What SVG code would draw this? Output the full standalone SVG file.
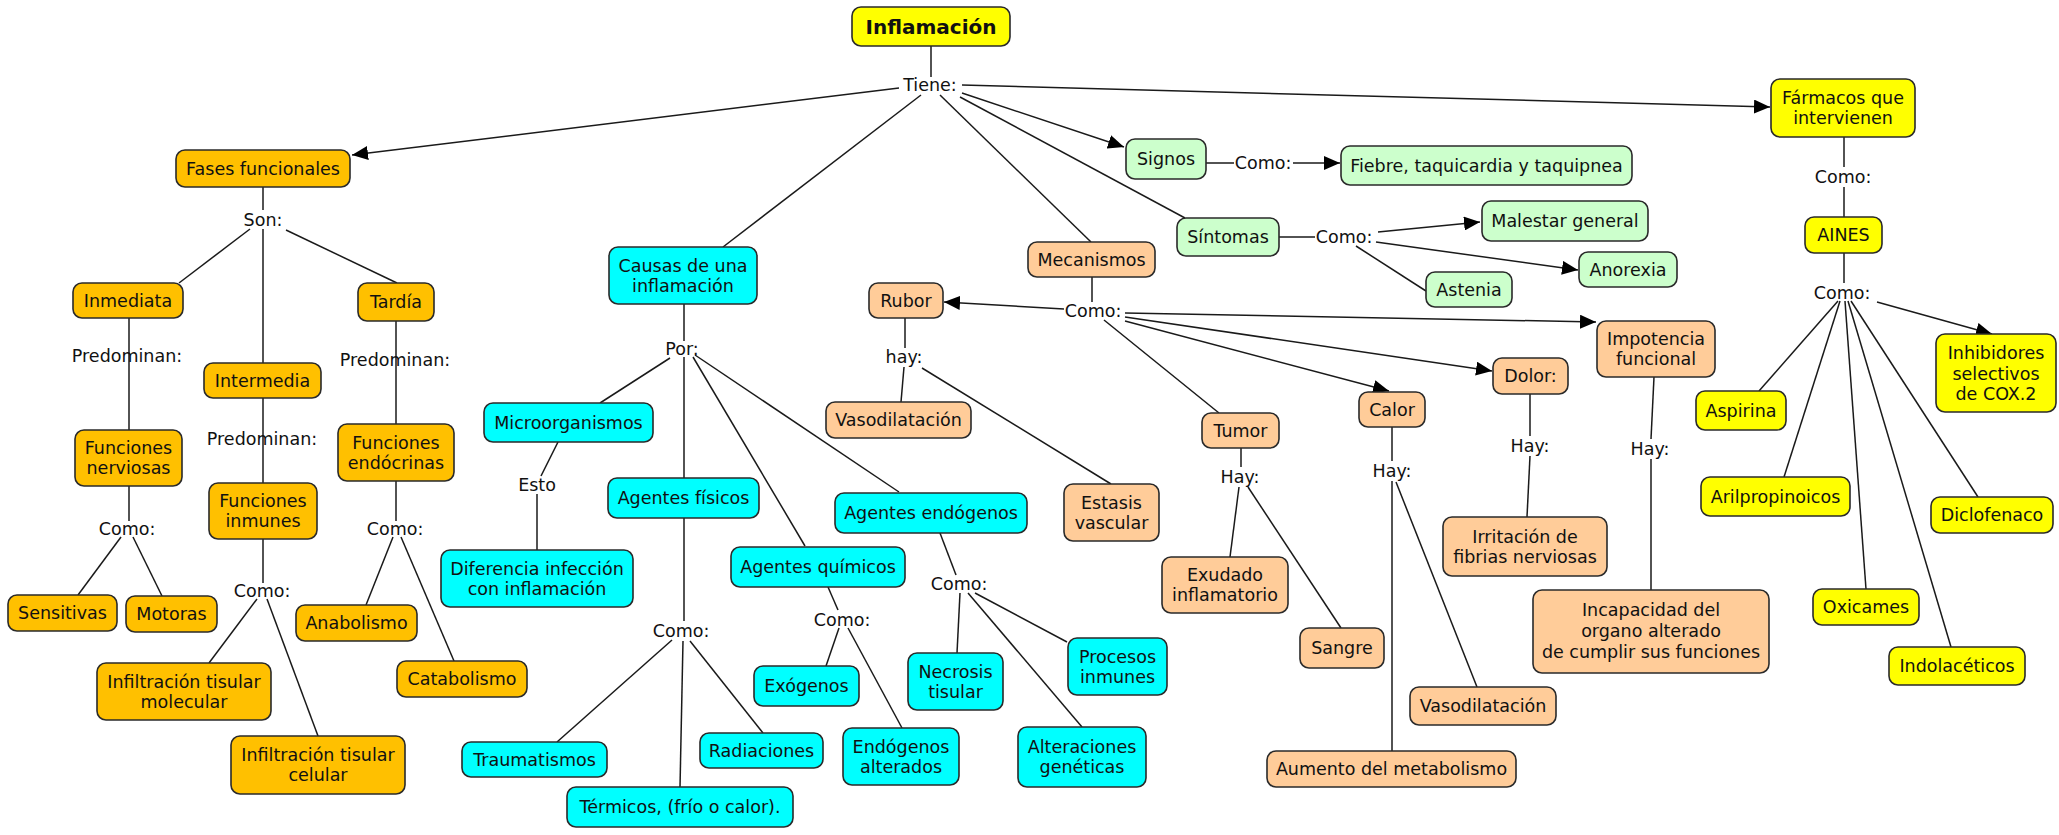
<svg xmlns="http://www.w3.org/2000/svg" width="2059" height="835" viewBox="0 0 2059 835">
<style>
text{font-family:"DejaVu Sans","Liberation Sans",sans-serif;font-size:17.5px;fill:#111;text-anchor:middle}
.t{font-weight:bold;font-size:20px}
.n rect{stroke:#2a2a2a;stroke-width:1.6}
.o{fill:#FFC000}.c{fill:#00FFFF}.p{fill:#FFCC99}.g{fill:#CCFFCC}.y{fill:#FFFF00}
#links line{stroke:#1a1a1a;stroke-width:1.5}
.a{marker-end:url(#ah)}
</style>
<defs>
<marker id="ah" markerUnits="userSpaceOnUse" markerWidth="18" markerHeight="14" refX="16" refY="7" orient="auto">
<path d="M0,0 L16,7 L0,14 z" fill="#000"/>
</marker>
</defs>
<g id="links">
<line x1="931" y1="46" x2="931" y2="77"/>
<line class="a" x1="899" y1="88" x2="352" y2="155"/>
<line x1="921" y1="95" x2="723" y2="247"/>
<line x1="940" y1="95" x2="1091" y2="242"/>
<line x1="960" y1="97" x2="1185" y2="218"/>
<line class="a" x1="962" y1="93" x2="1124" y2="147"/>
<line class="a" x1="962" y1="85" x2="1770" y2="107"/>
<line x1="263" y1="187" x2="263" y2="210"/>
<line x1="250" y1="229" x2="179" y2="283"/>
<line x1="263" y1="229" x2="263" y2="363"/>
<line x1="286" y1="230" x2="397" y2="283"/>
<line x1="129" y1="318" x2="129" y2="430"/>
<line x1="129" y1="486" x2="129" y2="521"/>
<line x1="121" y1="537" x2="78" y2="595"/>
<line x1="133" y1="537" x2="162" y2="596"/>
<line x1="263" y1="398" x2="263" y2="483"/>
<line x1="263" y1="539" x2="263" y2="583"/>
<line x1="257" y1="599" x2="209" y2="663"/>
<line x1="267" y1="599" x2="318" y2="736"/>
<line x1="396" y1="321" x2="396" y2="424"/>
<line x1="396" y1="481" x2="396" y2="521"/>
<line x1="393" y1="537" x2="366" y2="605"/>
<line x1="401" y1="537" x2="454" y2="661"/>
<line x1="684" y1="304" x2="684" y2="341"/>
<line x1="670" y1="358" x2="600" y2="403"/>
<line x1="684" y1="357" x2="684" y2="478"/>
<line x1="693" y1="357" x2="805" y2="546"/>
<line x1="695" y1="355" x2="899" y2="492"/>
<line x1="558" y1="442" x2="541" y2="476"/>
<line x1="537" y1="494" x2="537" y2="550"/>
<line x1="684" y1="518" x2="684" y2="621"/>
<line x1="672" y1="640" x2="557" y2="742"/>
<line x1="683" y1="641" x2="680" y2="787"/>
<line x1="690" y1="641" x2="763" y2="733"/>
<line x1="828" y1="587" x2="838" y2="610"/>
<line x1="839" y1="628" x2="826" y2="666"/>
<line x1="848" y1="628" x2="902" y2="728"/>
<line x1="940" y1="533" x2="956" y2="575"/>
<line x1="960" y1="593" x2="957" y2="653"/>
<line x1="968" y1="593" x2="1082" y2="727"/>
<line x1="975" y1="593" x2="1067" y2="642"/>
<line x1="1092" y1="277" x2="1092" y2="302"/>
<line class="a" x1="1064" y1="309" x2="944" y2="302"/>
<line class="a" x1="1125" y1="313" x2="1596" y2="322"/>
<line class="a" x1="1125" y1="317" x2="1492" y2="371"/>
<line class="a" x1="1125" y1="321" x2="1389" y2="391"/>
<line x1="1104" y1="320" x2="1219" y2="413"/>
<line x1="905" y1="318" x2="905" y2="348"/>
<line x1="904" y1="367" x2="901" y2="402"/>
<line x1="922" y1="368" x2="1111" y2="484"/>
<line x1="1241" y1="448" x2="1241" y2="467"/>
<line x1="1239" y1="487" x2="1230" y2="557"/>
<line x1="1248" y1="487" x2="1341" y2="628"/>
<line x1="1392" y1="427" x2="1392" y2="461"/>
<line x1="1392" y1="481" x2="1392" y2="751"/>
<line x1="1396" y1="482" x2="1477" y2="687"/>
<line x1="1530" y1="394" x2="1530" y2="436"/>
<line x1="1530" y1="456" x2="1527" y2="517"/>
<line x1="1654" y1="377" x2="1651" y2="439"/>
<line x1="1651" y1="459" x2="1651" y2="590"/>
<line x1="1206" y1="163" x2="1234" y2="163"/>
<line class="a" x1="1293" y1="163" x2="1340" y2="163"/>
<line x1="1279" y1="237" x2="1315" y2="237"/>
<line class="a" x1="1378" y1="232" x2="1480" y2="222"/>
<line class="a" x1="1376" y1="242" x2="1578" y2="270"/>
<line x1="1356" y1="246" x2="1426" y2="291"/>
<line x1="1844" y1="137" x2="1844" y2="167"/>
<line x1="1844" y1="187" x2="1844" y2="217"/>
<line x1="1844" y1="253" x2="1844" y2="283"/>
<line class="a" x1="1877" y1="302" x2="1992" y2="334"/>
<line x1="1838" y1="301" x2="1759" y2="391"/>
<line x1="1840" y1="301" x2="1784" y2="477"/>
<line x1="1845" y1="301" x2="1866" y2="589"/>
<line x1="1848" y1="301" x2="1951" y2="647"/>
<line x1="1851" y1="301" x2="1978" y2="497"/>
</g>
<g id="labels">
<text x="930" y="91">Tiene:</text>
<text x="263" y="226">Son:</text>
<text x="127" y="362">Predominan:</text>
<text x="262" y="445">Predominan:</text>
<text x="395" y="366">Predominan:</text>
<text x="127" y="535">Como:</text>
<text x="262" y="597">Como:</text>
<text x="395" y="535">Como:</text>
<text x="682" y="355">Por:</text>
<text x="537" y="491">Esto</text>
<text x="681" y="637">Como:</text>
<text x="842" y="626">Como:</text>
<text x="959" y="590">Como:</text>
<text x="1093" y="317">Como:</text>
<text x="904" y="363">hay:</text>
<text x="1240" y="483">Hay:</text>
<text x="1392" y="477">Hay:</text>
<text x="1530" y="452">Hay:</text>
<text x="1650" y="455">Hay:</text>
<text x="1263" y="169">Como:</text>
<text x="1344" y="243">Como:</text>
<text x="1843" y="183">Como:</text>
<text x="1842" y="299">Como:</text>
</g>
<g class="n">
<g id="n-inflamacion"><rect class="y" x="852" y="7" width="158" height="39" rx="9"/><text class="t" x="931" y="33.5">Inflamación</text></g>
<g id="n-fases"><rect class="o" x="176" y="150" width="174" height="37" rx="9"/><text x="263" y="174.5">Fases funcionales</text></g>
<g id="n-inmediata"><rect class="o" x="73" y="283" width="110" height="35" rx="9"/><text x="128" y="306.5">Inmediata</text></g>
<g id="n-intermedia"><rect class="o" x="204" y="363" width="117" height="35" rx="9"/><text x="262.5" y="386.5">Intermedia</text></g>
<g id="n-tardia"><rect class="o" x="358" y="283" width="76" height="38" rx="9"/><text x="396" y="308">Tardía</text></g>
<g id="n-nerviosas"><rect class="o" x="75" y="430" width="107" height="56" rx="9"/><text x="128.5" y="454">Funciones</text><text x="128.5" y="474">nerviosas</text></g>
<g id="n-inmunes"><rect class="o" x="209" y="483" width="108" height="56" rx="9"/><text x="263" y="507">Funciones</text><text x="263" y="527">inmunes</text></g>
<g id="n-endocrinas"><rect class="o" x="338" y="424" width="116" height="57" rx="9"/><text x="396" y="448.5">Funciones</text><text x="396" y="468.5">endócrinas</text></g>
<g id="n-sensitivas"><rect class="o" x="8" y="595" width="109" height="36" rx="9"/><text x="62.5" y="619">Sensitivas</text></g>
<g id="n-motoras"><rect class="o" x="126" y="596" width="91" height="36" rx="9"/><text x="171.5" y="620">Motoras</text></g>
<g id="n-anabolismo"><rect class="o" x="296" y="605" width="121" height="36" rx="9"/><text x="356.5" y="629">Anabolismo</text></g>
<g id="n-catabolismo"><rect class="o" x="397" y="661" width="130" height="36" rx="9"/><text x="462" y="685">Catabolismo</text></g>
<g id="n-infmolecular"><rect class="o" x="97" y="663" width="174" height="57" rx="9"/><text x="184" y="687.5">Infiltración tisular</text><text x="184" y="707.5">molecular</text></g>
<g id="n-infcelular"><rect class="o" x="231" y="736" width="174" height="58" rx="9"/><text x="318" y="761">Infiltración tisular</text><text x="318" y="781">celular</text></g>
<g id="n-causas"><rect class="c" x="609" y="247" width="148" height="57" rx="9"/><text x="683" y="271.5">Causas de una</text><text x="683" y="291.5">inflamación</text></g>
<g id="n-micro"><rect class="c" x="484" y="403" width="169" height="39" rx="9"/><text x="568.5" y="428.5">Microorganismos</text></g>
<g id="n-diferencia"><rect class="c" x="441" y="550" width="192" height="57" rx="9"/><text x="537" y="574.5">Diferencia infección</text><text x="537" y="594.5">con inflamación</text></g>
<g id="n-fisicos"><rect class="c" x="608" y="478" width="151" height="40" rx="9"/><text x="683.5" y="504">Agentes físicos</text></g>
<g id="n-quimicos"><rect class="c" x="731" y="547" width="174" height="40" rx="9"/><text x="818" y="573">Agentes químicos</text></g>
<g id="n-endogenos"><rect class="c" x="835" y="493" width="192" height="40" rx="9"/><text x="931" y="519">Agentes endógenos</text></g>
<g id="n-traumatismos"><rect class="c" x="462" y="742" width="145" height="35" rx="9"/><text x="534.5" y="765.5">Traumatismos</text></g>
<g id="n-termicos"><rect class="c" x="567" y="787" width="226" height="40" rx="9"/><text x="680" y="813">Térmicos, (frío o calor).</text></g>
<g id="n-radiaciones"><rect class="c" x="700" y="733" width="123" height="35" rx="9"/><text x="761.5" y="756.5">Radiaciones</text></g>
<g id="n-exogenos"><rect class="c" x="754" y="666" width="105" height="40" rx="9"/><text x="806.5" y="692">Exógenos</text></g>
<g id="n-endalterados"><rect class="c" x="843" y="728" width="116" height="57" rx="9"/><text x="901" y="752.5">Endógenos</text><text x="901" y="772.5">alterados</text></g>
<g id="n-necrosis"><rect class="c" x="908" y="653" width="95" height="57" rx="9"/><text x="955.5" y="677.5">Necrosis</text><text x="955.5" y="697.5">tisular</text></g>
<g id="n-procesos"><rect class="c" x="1068" y="638" width="99" height="57" rx="9"/><text x="1117.5" y="662.5">Procesos</text><text x="1117.5" y="682.5">inmunes</text></g>
<g id="n-alteraciones"><rect class="c" x="1018" y="727" width="128" height="60" rx="9"/><text x="1082" y="753">Alteraciones</text><text x="1082" y="773">genéticas</text></g>
<g id="n-mecanismos"><rect class="p" x="1028" y="242" width="127" height="35" rx="9"/><text x="1091.5" y="265.5">Mecanismos</text></g>
<g id="n-rubor"><rect class="p" x="869" y="283" width="74" height="35" rx="9"/><text x="906" y="306.5">Rubor</text></g>
<g id="n-vaso1"><rect class="p" x="826" y="402" width="145" height="36" rx="9"/><text x="898.5" y="426">Vasodilatación</text></g>
<g id="n-estasis"><rect class="p" x="1064" y="484" width="95" height="57" rx="9"/><text x="1111.5" y="508.5">Estasis</text><text x="1111.5" y="528.5">vascular</text></g>
<g id="n-tumor"><rect class="p" x="1202" y="413" width="77" height="35" rx="9"/><text x="1240.5" y="436.5">Tumor</text></g>
<g id="n-exudado"><rect class="p" x="1162" y="557" width="126" height="56" rx="9"/><text x="1225" y="581">Exudado</text><text x="1225" y="601">inflamatorio</text></g>
<g id="n-sangre"><rect class="p" x="1300" y="628" width="84" height="40" rx="9"/><text x="1342" y="654">Sangre</text></g>
<g id="n-calor"><rect class="p" x="1359" y="392" width="66" height="35" rx="9"/><text x="1392" y="415.5">Calor</text></g>
<g id="n-vaso2"><rect class="p" x="1410" y="687" width="146" height="38" rx="9"/><text x="1483" y="712">Vasodilatación</text></g>
<g id="n-aumento"><rect class="p" x="1267" y="751" width="249" height="36" rx="9"/><text x="1391.5" y="775">Aumento del metabolismo</text></g>
<g id="n-dolor"><rect class="p" x="1493" y="358" width="75" height="36" rx="9"/><text x="1530.5" y="382">Dolor:</text></g>
<g id="n-irritacion"><rect class="p" x="1443" y="517" width="164" height="59" rx="9"/><text x="1525" y="542.5">Irritación de</text><text x="1525" y="562.5">fibrias nerviosas</text></g>
<g id="n-impotencia"><rect class="p" x="1597" y="321" width="118" height="56" rx="9"/><text x="1656" y="345">Impotencia</text><text x="1656" y="365">funcional</text></g>
<g id="n-incapacidad"><rect class="p" x="1533" y="590" width="236" height="83" rx="9"/><text x="1651" y="616">Incapacidad del</text><text x="1651" y="637">organo alterado</text><text x="1651" y="658">de cumplir sus funciones</text></g>
<g id="n-signos"><rect class="g" x="1126" y="139" width="80" height="40" rx="9"/><text x="1166" y="165">Signos</text></g>
<g id="n-fiebre"><rect class="g" x="1341" y="146" width="291" height="39" rx="9"/><text x="1486.5" y="171.5">Fiebre, taquicardia y taquipnea</text></g>
<g id="n-sintomas"><rect class="g" x="1177" y="218" width="102" height="38" rx="9"/><text x="1228" y="243">Síntomas</text></g>
<g id="n-malestar"><rect class="g" x="1482" y="201" width="166" height="40" rx="9"/><text x="1565" y="227">Malestar general</text></g>
<g id="n-anorexia"><rect class="g" x="1579" y="252" width="98" height="35" rx="9"/><text x="1628" y="275.5">Anorexia</text></g>
<g id="n-astenia"><rect class="g" x="1426" y="272" width="86" height="35" rx="9"/><text x="1469" y="295.5">Astenia</text></g>
<g id="n-farmacos"><rect class="y" x="1771" y="79" width="144" height="58" rx="9"/><text x="1843" y="104">Fármacos que</text><text x="1843" y="124">intervienen</text></g>
<g id="n-aines"><rect class="y" x="1805" y="217" width="77" height="36" rx="9"/><text x="1843.5" y="241">AINES</text></g>
<g id="n-inhibidores"><rect class="y" x="1936" y="334" width="120" height="78" rx="9"/><text x="1996" y="359">Inhibidores</text><text x="1996" y="380">selectivos</text><text x="1996" y="400">de COX.2</text></g>
<g id="n-aspirina"><rect class="y" x="1696" y="391" width="90" height="39" rx="9"/><text x="1741" y="416.5">Aspirina</text></g>
<g id="n-aril"><rect class="y" x="1701" y="477" width="149" height="39" rx="9"/><text x="1775.5" y="502.5">Arilpropinoicos</text></g>
<g id="n-diclofenaco"><rect class="y" x="1931" y="497" width="122" height="36" rx="9"/><text x="1992" y="521">Diclofenaco</text></g>
<g id="n-oxicames"><rect class="y" x="1813" y="589" width="106" height="36" rx="9"/><text x="1866" y="613">Oxicames</text></g>
<g id="n-indol"><rect class="y" x="1889" y="647" width="136" height="38" rx="9"/><text x="1957" y="672">Indolacéticos</text></g>
</g>
</svg>
